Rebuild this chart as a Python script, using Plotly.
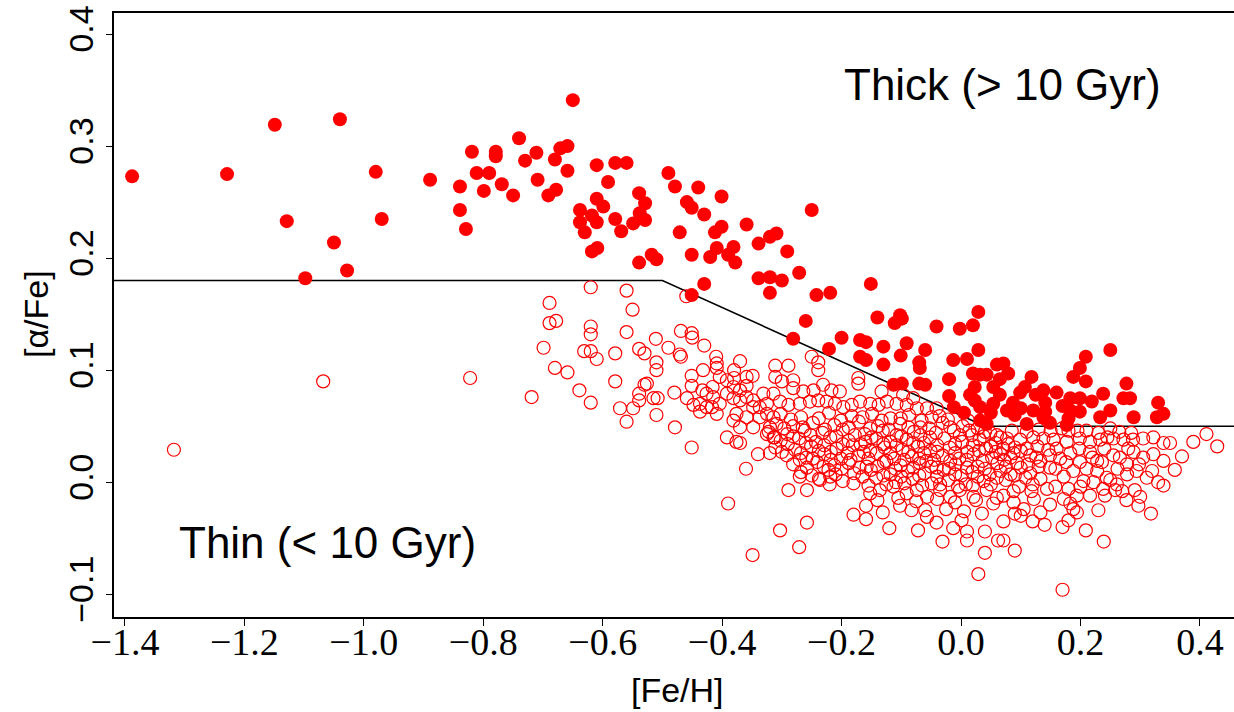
import plotly.graph_objects as go

# ---------------- data ----------------
# thick disc stars (> 10 Gyr): ([Fe/H], [alpha/Fe])
thick_stars = [
    (-1.388, 0.273), (-1.229, 0.275), (-1.149, 0.319), (-1.129, 0.233), (-1.098, 0.182), (-1.040, 0.324),
    (-1.050, 0.214), (-1.028, 0.189), (-0.980, 0.277), (-0.970, 0.235), (-0.889, 0.270),
    (-0.650, 0.341), (-0.819, 0.295), (-0.779, 0.295), (-0.779, 0.291), (-0.740, 0.307), (-0.730, 0.287),
    (-0.711, 0.294), (-0.680, 0.288), (-0.671, 0.298), (-0.659, 0.300), (-0.811, 0.276), (-0.790, 0.276),
    (-0.839, 0.264), (-0.799, 0.260), (-0.769, 0.266), (-0.750, 0.256), (-0.709, 0.270), (-0.691, 0.256),
    (-0.678, 0.261), (-0.659, 0.278), (-0.839, 0.243), (-0.829, 0.226), (-0.610, 0.283), (-0.579, 0.285),
    (-0.560, 0.285), (-0.591, 0.268), (-0.638, 0.243), (-0.610, 0.253), (-0.599, 0.246), (-0.618, 0.238),
    (-0.638, 0.232), (-0.610, 0.232), (-0.630, 0.223), (-0.579, 0.235), (-0.569, 0.224), (-0.539, 0.258),
    (-0.529, 0.249), (-0.538, 0.240), (-0.529, 0.234), (-0.549, 0.231), (-0.618, 0.206), (-0.609, 0.209),
    (-0.539, 0.196), (-0.518, 0.203), (-0.510, 0.199), (-0.490, 0.276), (-0.479, 0.264), (-0.440, 0.263),
    (-0.401, 0.255), (-0.459, 0.250), (-0.451, 0.245), (-0.430, 0.239), (-0.471, 0.223), (-0.412, 0.223),
    (-0.401, 0.228), (-0.359, 0.230), (-0.451, 0.203), (-0.420, 0.201), (-0.409, 0.209), (-0.381, 0.210),
    (-0.390, 0.203), (-0.378, 0.196), (-0.339, 0.213), (-0.320, 0.219), (-0.309, 0.222), (-0.291, 0.206),
    (-0.339, 0.182), (-0.320, 0.183), (-0.300, 0.180), (-0.320, 0.169), (-0.271, 0.187), (-0.250, 0.243),
    (-0.430, 0.177), (-0.451, 0.167), (-0.242, 0.167),
    (-0.219, 0.169), (-0.151, 0.177), (-0.260, 0.144), (-0.281, 0.128), (-0.200, 0.129), (-0.221, 0.119),
    (-0.169, 0.127), (-0.159, 0.125), (-0.169, 0.112), (-0.159, 0.109), (-0.140, 0.147), (-0.130, 0.121),
    (-0.130, 0.105), (-0.111, 0.142), (-0.102, 0.149), (-0.099, 0.146), (-0.091, 0.124), (-0.101, 0.113),
    (-0.060, 0.118), (-0.070, 0.107), (-0.069, 0.102), (-0.113, 0.087), (-0.099, 0.088), (-0.070, 0.088),
    (-0.060, 0.087), (-0.041, 0.139), (-0.002, 0.137), (0.020, 0.140), (0.029, 0.152), (0.029, 0.118),
    (-0.013, 0.109), (0.010, 0.110), (-0.020, 0.092), (-0.020, 0.077), (-0.012, 0.067), (0.020, 0.097),
    (0.032, 0.096), (0.043, 0.096), (0.060, 0.105), (0.023, 0.085), (0.023, 0.073), (0.032, 0.067),
    (0.032, 0.055), (0.043, 0.052), (0.054, 0.085), (0.054, 0.070),
    (0.250, 0.118), (0.209, 0.112), (0.199, 0.102), (0.188, 0.094), (0.209, 0.090), (0.079, 0.097),
    (0.118, 0.094), (0.138, 0.082), (0.107, 0.085), (0.071, 0.106), (0.183, 0.075), (0.199, 0.075),
    (0.219, 0.072), (0.238, 0.079), (0.277, 0.088), (0.272, 0.075), (0.283, 0.075), (0.250, 0.064),
    (0.233, 0.058), (0.183, 0.064), (0.199, 0.063), (0.180, 0.057), (0.289, 0.058), (0.330, 0.071),
    (0.339, 0.061), (0.328, 0.058), (0.110, 0.052), (0.138, 0.058), (0.121, 0.064), (0.077, 0.064),
    (0.141, 0.063), (0.177, 0.051), (0.087, 0.071), (0.099, 0.080), (0.141, 0.071), (0.149, 0.053),
    (0.065, 0.078), (0.005, 0.062), (0.015, 0.078), (0.050, 0.062), (0.065, 0.092), (0.090, 0.060),
    (0.100, 0.066), (0.125, 0.078), (0.160, 0.080), (0.170, 0.068),
]

# thin disc stars (< 10 Gyr), metal-poor / sparse part
thin_stars_left = [
    (-1.318, 0.029), (-1.068, 0.090), (-0.822, 0.093), (-0.719, 0.076),
    (-0.620, 0.174), (-0.560, 0.171), (-0.689, 0.160), (-0.550, 0.154), (-0.460, 0.166), (-0.689, 0.142),
    (-0.678, 0.144), (-0.620, 0.139), (-0.620, 0.132), (-0.560, 0.134), (-0.699, 0.120), (-0.631, 0.117),
    (-0.620, 0.117), (-0.610, 0.110), (-0.579, 0.115), (-0.539, 0.119), (-0.530, 0.115), (-0.511, 0.128),
    (-0.490, 0.120), (-0.469, 0.135), (-0.451, 0.133), (-0.450, 0.129), (-0.430, 0.122), (-0.471, 0.114),
    (-0.469, 0.112), (-0.680, 0.102), (-0.659, 0.098), (-0.579, 0.090), (-0.639, 0.082), (-0.620, 0.071),
    (-0.571, 0.066), (-0.560, 0.054), (-0.549, 0.066), (-0.539, 0.079), (-0.530, 0.087), (-0.526, 0.088),
    (-0.515, 0.075), (-0.508, 0.075), (-0.539, 0.073), (-0.510, 0.060), (-0.510, 0.107), (-0.510, 0.100),
    (-0.480, 0.080), (-0.479, 0.049), (-0.451, 0.031), (-0.451, 0.095), (-0.451, 0.086), (-0.459, 0.075),
    (-0.448, 0.069), (-0.437, 0.063), (-0.433, 0.082), (-0.437, 0.070), (-0.410, 0.112), (-0.409, 0.106),
    (-0.409, 0.102), (-0.432, 0.100), (-0.370, 0.108), (-0.380, 0.100), (-0.380, 0.093), (-0.404, 0.094),
    (-0.392, 0.091), (-0.381, 0.085), (-0.416, 0.085), (-0.426, 0.079), (-0.415, 0.076), (-0.417, 0.067),
    (-0.409, 0.061), (-0.426, 0.067), (-0.404, 0.070), (-0.392, 0.079), (-0.359, 0.094), (-0.349, 0.095),
    (-0.359, 0.086), (-0.370, 0.082), (-0.370, 0.073), (-0.381, 0.075), (-0.359, 0.076), (-0.348, 0.073),
    (-0.348, 0.067), (-0.337, 0.067), (-0.325, 0.061), (-0.337, 0.058), (-0.314, 0.058), (-0.320, 0.049),
    (-0.325, 0.043), (-0.314, 0.040), (-0.376, 0.061), (-0.381, 0.055), (-0.370, 0.049), (-0.348, 0.049),
    (-0.359, 0.058), (-0.392, 0.040), (-0.370, 0.035), (-0.376, 0.036), (-0.340, 0.025), (-0.320, 0.026),
    (-0.360, 0.012), (-0.390, -0.019), (-0.349, -0.065), (-0.303, -0.043),
]

# thin disc stars, solar-neighbourhood core
thin_stars_mid = [
    (-0.250, 0.112), (-0.239, 0.107), (-0.239, 0.100), (-0.311, 0.104), (-0.289, 0.104), (-0.311, 0.094),
    (-0.300, 0.090), (-0.281, 0.091), (-0.281, 0.084), (-0.264, 0.081), (-0.247, 0.082), (-0.231, 0.087),
    (-0.217, 0.082), (-0.203, 0.081), (-0.172, 0.093), (-0.172, 0.088), (-0.133, 0.081), (-0.097, 0.078),
    (-0.080, 0.075), (-0.331, 0.079), (-0.314, 0.079), (-0.325, 0.070), (-0.303, 0.072), (-0.289, 0.069),
    (-0.270, 0.070), (-0.253, 0.072), (-0.239, 0.073), (-0.225, 0.072), (-0.211, 0.070), (-0.197, 0.067),
    (-0.183, 0.069), (-0.169, 0.072), (-0.152, 0.070), (-0.138, 0.069), (-0.124, 0.072), (-0.108, 0.070),
    (-0.091, 0.069), (-0.074, 0.066), (-0.057, 0.066), (-0.041, 0.066),
    (-0.289, -0.007), (-0.258, -0.007), (-0.270, 0.005), (-0.236, 0.002), (-0.219, 0.005), (-0.258, -0.036),
    (-0.271, -0.058), (-0.180, -0.029), (-0.159, -0.033), (-0.159, -0.021), (-0.131, -0.027), (-0.120, -0.041),
    (-0.102, -0.021), (-0.083, -0.025), (-0.072, -0.043), (-0.057, -0.031), (-0.041, -0.036), (-0.031, -0.053),
    (-0.013, -0.041), (0.001, -0.034), (0.010, -0.052), (0.010, -0.044), (0.040, -0.044), (0.040, -0.063),
    (0.029, -0.082), (0.062, -0.052), (-0.152, -0.010), (-0.136, -0.007), (-0.113, -0.004), (-0.091, -0.010),
    (-0.074, -0.007), (-0.057, -0.013), (-0.035, -0.007), (-0.018, -0.013), (-0.002, -0.007), (0.021, -0.013),
    (0.043, -0.007), (0.054, -0.019),
    (-0.302, 0.061), (-0.268, 0.058), (-0.221, 0.062), (-0.183, 0.059), (-0.149, 0.061), (-0.118, 0.057),
    (-0.087, 0.060), (-0.049, 0.058), (-0.022, 0.056), (0.012, 0.055),
    (-0.309, 0.052), (-0.281, 0.050), (-0.248, 0.053), (-0.212, 0.051), (-0.171, 0.054), (-0.139, 0.050),
    (-0.102, 0.052), (-0.068, 0.049), (-0.031, 0.053), (0.003, 0.050), (0.028, 0.048),
    (-0.322, 0.045), (-0.291, 0.043), (-0.262, 0.046), (-0.232, 0.044), (-0.198, 0.047), (-0.161, 0.043),
    (-0.131, 0.046), (-0.108, 0.042), (-0.079, 0.045), (-0.042, 0.044), (-0.012, 0.046), (0.018, 0.042),
    (0.049, 0.044),
    (-0.302, 0.037), (-0.271, 0.039), (-0.243, 0.036), (-0.219, 0.040), (-0.188, 0.037), (-0.168, 0.034),
    (-0.142, 0.039), (-0.118, 0.036), (-0.091, 0.038), (-0.062, 0.035), (-0.028, 0.039), (0.002, 0.036),
    (0.031, 0.038), (0.058, 0.035),
    (-0.311, 0.031), (-0.278, 0.029), (-0.251, 0.032), (-0.208, 0.030), (-0.181, 0.033), (-0.152, 0.028),
    (-0.128, 0.031), (-0.098, 0.029), (-0.072, 0.032), (-0.051, 0.028), (-0.019, 0.031), (0.011, 0.027),
    (0.042, 0.030),
    (-0.292, 0.024), (-0.259, 0.022), (-0.229, 0.025), (-0.201, 0.021), (-0.172, 0.024), (-0.141, 0.026),
    (-0.112, 0.021), (-0.082, 0.023), (-0.058, 0.019), (-0.031, 0.024), (-0.003, 0.021), (0.021, 0.025),
    (0.052, 0.022),
    (-0.281, 0.016), (-0.241, 0.018), (-0.212, 0.015), (-0.188, 0.017), (-0.158, 0.014), (-0.129, 0.018),
    (-0.101, 0.015), (-0.069, 0.017), (-0.041, 0.013), (-0.009, 0.016), (0.028, 0.014), (0.061, 0.017),
    (-0.268, 0.009), (-0.222, 0.011), (-0.179, 0.008), (-0.151, 0.011), (-0.118, 0.007), (-0.089, 0.010),
    (-0.061, 0.008), (-0.029, 0.011), (0.001, 0.006), (0.019, 0.009), (0.048, 0.007),
    (-0.238, 0.003), (-0.198, 0.001), (-0.142, 0.004), (-0.109, 0.000), (-0.081, 0.003), (-0.049, -0.001),
    (-0.021, 0.002), (0.008, -0.002), (0.038, 0.001),
]

# thin disc stars, densest part of the core (second layer)
thin_stars_core = [
    (-0.285, 0.056), (-0.238, 0.057), (-0.201, 0.055), (-0.165, 0.058), (-0.133, 0.055), (-0.101, 0.057),
    (-0.066, 0.055), (-0.036, 0.059),
    (-0.296, 0.048), (-0.265, 0.049), (-0.228, 0.047), (-0.188, 0.049), (-0.152, 0.048), (-0.121, 0.047),
    (-0.088, 0.049), (-0.053, 0.048), (-0.018, 0.049), (0.014, 0.046), (0.040, 0.045),
    (-0.312, 0.040), (-0.281, 0.041), (-0.252, 0.042), (-0.209, 0.041), (-0.178, 0.042), (-0.150, 0.040),
    (-0.100, 0.041), (-0.068, 0.042), (-0.052, 0.040), (-0.002, 0.042), (0.038, 0.041), (0.066, 0.040),
    (-0.290, 0.034), (-0.260, 0.035), (-0.229, 0.033), (-0.198, 0.034), (-0.160, 0.036), (-0.130, 0.034),
    (-0.108, 0.033), (-0.080, 0.035), (-0.040, 0.033), (-0.010, 0.034), (0.020, 0.033), (0.050, 0.032),
    (0.079, 0.034),
    (-0.300, 0.027), (-0.268, 0.026), (-0.238, 0.028), (-0.218, 0.027), (-0.190, 0.026), (-0.163, 0.027),
    (-0.118, 0.026), (-0.088, 0.027), (-0.062, 0.026), (-0.040, 0.027), (-0.010, 0.026), (0.030, 0.028),
    (0.058, 0.027), (0.088, 0.026),
    (-0.270, 0.020), (-0.248, 0.021), (-0.218, 0.020), (-0.185, 0.020), (-0.155, 0.021), (-0.125, 0.019),
    (-0.095, 0.020), (-0.070, 0.021), (-0.045, 0.020), (-0.018, 0.019), (0.010, 0.020), (0.036, 0.019),
    (0.072, 0.020),
    (-0.258, 0.013), (-0.230, 0.014), (-0.200, 0.012), (-0.170, 0.013), (-0.140, 0.014), (-0.110, 0.012),
    (-0.080, 0.013), (-0.050, 0.014), (-0.020, 0.012), (0.010, 0.013), (0.040, 0.012), (0.075, 0.014),
    (-0.250, 0.006), (-0.210, 0.007), (-0.165, 0.005), (-0.130, 0.006), (-0.100, 0.005), (-0.070, 0.006),
    (-0.040, 0.005), (-0.010, 0.007), (0.028, 0.005), (0.060, 0.004), (0.090, 0.006),
    (-0.220, -0.002), (-0.180, -0.001), (-0.155, -0.003), (-0.125, -0.002), (-0.095, -0.001), (-0.065, -0.003),
    (-0.035, -0.002), (-0.005, -0.004), (0.020, -0.003), (0.050, -0.002),
    (-0.140, -0.016), (-0.105, -0.014), (-0.075, -0.017), (-0.040, -0.015), (-0.010, -0.018), (0.025, -0.016),
    (0.060, -0.014), (0.088, -0.008),
    (-0.060, -0.025), (-0.025, -0.024), (0.005, -0.026), (0.035, -0.028), (0.090, -0.028),
]

# thin disc stars, metal-rich part
thin_stars_right = [
    (0.411, 0.043), (0.389, 0.036), (0.429, 0.032), (0.350, 0.035), (0.370, 0.023), (0.358, 0.011),
    (0.339, -0.003), (0.330, 0.000), (0.318, -0.028), (0.297, -0.021), (0.300, -0.013), (0.291, -0.007),
    (0.277, -0.016), (0.258, -0.007), (0.241, -0.012), (0.230, -0.025), (0.209, -0.043), (0.239, -0.053),
    (0.170, -0.040), (0.180, -0.034), (0.194, -0.027), (0.183, -0.019), (0.120, -0.035), (0.090, -0.061),
    (0.071, -0.052), (0.071, -0.035), (0.170, -0.096), (0.250, 0.048), (0.169, 0.048), (0.180, 0.046),
    (0.077, 0.039), (0.099, 0.038), (0.121, 0.040), (0.138, 0.039), (0.155, 0.038), (0.177, 0.036),
    (0.199, 0.039), (0.216, 0.036), (0.233, 0.038), (0.255, 0.039), (0.272, 0.038), (0.288, 0.038),
    (0.305, 0.039), (0.322, 0.040), (0.339, 0.035),
    (0.066, 0.025), (0.083, 0.022), (0.100, 0.028), (0.116, 0.024), (0.133, 0.019), (0.149, 0.024),
    (0.166, 0.021), (0.183, 0.026), (0.199, 0.018), (0.216, 0.027), (0.228, 0.019), (0.255, 0.024),
    (0.266, 0.022), (0.278, 0.016), (0.289, 0.027), (0.305, 0.022), (0.322, 0.025), (0.339, 0.019),
    (0.066, 0.010), (0.083, 0.007), (0.100, 0.013), (0.116, 0.008), (0.133, 0.003), (0.149, 0.013),
    (0.172, 0.005), (0.188, 0.010), (0.205, 0.001), (0.228, 0.010), (0.244, 0.004), (0.261, -0.002),
    (0.278, 0.007), (0.294, 0.010), (0.311, 0.004),
    (0.071, -0.012), (0.088, -0.018), (0.105, -0.024), (0.122, -0.015), (0.133, -0.027), (0.149, -0.020),
    (0.172, -0.015), (0.188, -0.024), (0.194, -0.012), (0.216, -0.012), (0.238, -0.006),
    (0.071, 0.030), (0.090, 0.031), (0.110, 0.030), (0.128, 0.032), (0.146, 0.029), (0.094, 0.017),
    (0.112, 0.016), (0.130, 0.014), (0.075, 0.002), (0.097, -0.004), (0.120, -0.002), (0.144, -0.006),
    (0.160, 0.030), (0.198, 0.030), (0.240, 0.030), (0.280, 0.030), (0.060, 0.042), (0.085, 0.046),
    (0.110, 0.045), (0.130, 0.047), (0.150, 0.046), (0.210, 0.046), (0.230, 0.044), (0.265, 0.045),
    (0.285, 0.044),
    (0.158, 0.012), (0.176, 0.018), (0.210, 0.012), (0.236, 0.018), (0.262, 0.012), (0.298, 0.016),
    (0.320, 0.010), (0.158, -0.004), (0.180, -0.006), (0.200, -0.004), (0.222, 0.000), (0.250, 0.002),
    (0.270, -0.008), (0.108, 0.004), (0.126, 0.022), (0.220, 0.022), (0.245, 0.040), (0.195, 0.046),
    (0.118, -0.008), (0.100, -0.030), (0.140, -0.038),
]

# thick / thin separation line
boundary_feh = [-1.4183, -0.50, 0.04, 0.4571]
boundary_alpha = [0.18, 0.18, 0.05, 0.05]

x_ticks = [-1.4, -1.2, -1.0, -0.8, -0.6, -0.4, -0.2, 0.0, 0.2, 0.4]
x_labels = ["\u22121.4", "\u22121.2", "\u22121.0", "\u22120.8", "\u22120.6", "\u22120.4", "\u22120.2", "0.0", "0.2", "0.4"]
y_ticks = [-0.1, 0.0, 0.1, 0.2, 0.3, 0.4]
y_labels = ["\u22120.1", "0.0", "0.1", "0.2", "0.3", "0.4"]

# ---------------- figure ----------------
thin_all = thin_stars_left + thin_stars_mid + thin_stars_core + thin_stars_right
thin_x = [p[0] for p in thin_all]
thin_y = [p[1] for p in thin_all]
thick_x = [p[0] for p in thick_stars]
thick_y = [p[1] for p in thick_stars]

fig = go.Figure()
fig.add_trace(go.Scatter(x=boundary_feh, y=boundary_alpha, mode="lines",
                         line=dict(color="black", width=1.6), hoverinfo="skip"))
fig.add_trace(go.Scatter(x=thin_x, y=thin_y, mode="markers",
                         marker=dict(symbol="circle-open", size=13, color="#ff0000",
                                     line=dict(width=1.2, color="#ff0000"))))
fig.add_trace(go.Scatter(x=thick_x, y=thick_y, mode="markers",
                         marker=dict(symbol="circle", size=14, color="#ff0000",
                                     line=dict(width=0))))

fig.update_layout(
    width=1234, height=712,
    margin=dict(l=114, r=0, t=13, b=95),
    paper_bgcolor="white", plot_bgcolor="white",
    showlegend=False,
    xaxis=dict(range=[-1.4183, 0.4571], tickvals=x_ticks, ticktext=x_labels,
               ticks="outside", ticklen=7, tickwidth=1.3, tickcolor="black",
               ticklabelstandoff=-16,
               showline=True, linecolor="black", linewidth=1.5, mirror=True,
               showgrid=False, zeroline=False,
               tickfont=dict(family="Liberation Serif", size=38, color="black")),
    yaxis=dict(range=[-0.1203, 0.4188], tickvals=y_ticks, ticktext=y_labels,
               tickangle=-90, ticks="outside", ticklen=6, tickwidth=1.3, tickcolor="black",
               showline=True, linecolor="black", linewidth=1.5, mirror=False,
               showgrid=False, zeroline=False,
               tickfont=dict(family="Liberation Sans", size=34, color="black")),
    annotations=[
        dict(text="[Fe/H]", xref="paper", yref="paper", x=0.5027, y=-0.121,
             xanchor="center", yanchor="middle", showarrow=False,
             font=dict(family="Liberation Sans", size=34, color="black")),
        dict(text="[\u03b1/Fe]", xref="paper", yref="paper", x=-0.0696, y=0.5017,
             xanchor="center", yanchor="middle", textangle=-90, showarrow=False,
             font=dict(family="Liberation Sans", size=34, color="black")),
        dict(text="Thick (> 10 Gyr)", xref="x", yref="y", x=0.070, y=0.355,
             xanchor="center", yanchor="middle", showarrow=False,
             font=dict(family="Liberation Sans", size=44, color="black")),
        dict(text="Thin (< 10 Gyr)", xref="x", yref="y", x=-1.061, y=-0.054,
             xanchor="center", yanchor="middle", showarrow=False,
             font=dict(family="Liberation Sans", size=44, color="black")),
    ],
)

fig.write_html("out.html")
